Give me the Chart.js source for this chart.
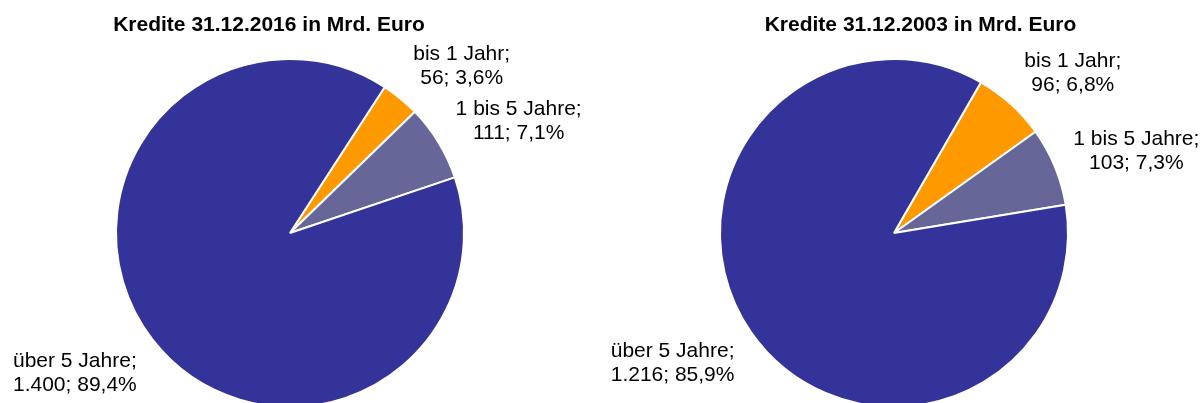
<!DOCTYPE html>
<html>
<head>
<meta charset="utf-8">
<script src="https://cdn.jsdelivr.net/npm/chart.js@4.4.0/dist/chart.umd.min.js"></script>
<style>
  html, body { margin: 0; padding: 0; background: #fff; overflow: hidden; }
  #wrap { position: relative; width: 1203px; height: 403px; overflow: hidden; }
  canvas { position: absolute; top: 0; }
  #chart2016 { left: 0; }
  #chart2003 { left: 600px; }
</style>
</head>
<body>
<div id="wrap">
  <canvas id="chart2016" width="600" height="466"></canvas>
  <canvas id="chart2003" width="603" height="466"></canvas>
</div>
<script>
const categories = ['bis 1 Jahr', '1 bis 5 Jahre', 'über 5 Jahre'];
const values2016 = [56, 111, 1400];
const shares2016 = [3.6, 7.1, 89.4];
const values2003 = [96, 103, 1216];
const shares2003 = [6.8, 7.3, 85.9];
const colors = ['#FF9900', '#666699', '#333399'];

const FONT = '"Liberation Sans", Arial, sans-serif';

function fmtNum(v) {
  return String(v).replace(/\B(?=(\d{3})+(?!\d))/g, '.');
}

// draws the title and the outside slice labels (roughly like Excel's "best fit")
const sliceLabels = {
  id: 'sliceLabels',
  afterDatasetsDraw(chart, args, opts) {
    const ctx = chart.ctx;
    const ds = chart.data.datasets[0];
    const meta = chart.getDatasetMeta(0);
    ctx.save();
    ctx.fillStyle = '#000';
    ctx.textAlign = 'center';
    ctx.textBaseline = 'alphabetic';
    ctx.font = 'bold 21px ' + FONT;
    ctx.fillText(opts.title, opts.titleX, 31);

    ctx.font = '21px ' + FONT;
    const lh = 24;
    meta.data.forEach((arc, i) => {
      const p = arc.getProps(['x', 'y', 'startAngle', 'endAngle', 'outerRadius']);
      const mid = (p.startAngle + p.endAngle) / 2;
      const r = p.outerRadius + 20;
      const ax = p.x + Math.cos(mid) * r;
      const ay = p.y + Math.sin(mid) * r;
      const lines = [
        categories[i] + ';',
        fmtNum(ds.data[i]) + '; ' + ds.shares[i].toFixed(1).replace('.', ',') + '%'
      ];
      const w = Math.max(...lines.map(l => ctx.measureText(l).width));
      const cx = Math.cos(mid) >= 0 ? ax + w / 2 : ax - w / 2;
      // labels below the centre sit a bit lower
      const k = Math.sin(mid) > 0 ? 32 : 24;
      const cy = ay + Math.sin(mid) * k;
      lines.forEach((l, n) => ctx.fillText(l, cx, cy + (n - 0.5) * lh + 7.5));
    });
    ctx.restore();
  }
};

function makePie(id, values, shares, rotation, padRight, title, titleX) {
  return new Chart(document.getElementById(id), {
    type: 'pie',
    data: {
      labels: categories,
      datasets: [{
        data: values,
        shares: shares,
        backgroundColor: colors,
        borderColor: '#fff',
        borderWidth: 2,
        radius: 174
      }]
    },
    options: {
      responsive: false,
      animation: false,
      events: [],
      rotation: rotation,
      layout: { padding: { left: 0, right: padRight, top: 0, bottom: 0 } },
      plugins: {
        legend: { display: false },
        tooltip: { enabled: false },
        sliceLabels: { title: title, titleX: titleX }
      }
    },
    plugins: [sliceLabels]
  });
}

makePie('chart2016', values2016, shares2016, 33, 20, 'Kredite 31.12.2016 in Mrd. Euro', 269);
makePie('chart2003', values2003, shares2003, 30, 15, 'Kredite 31.12.2003 in Mrd. Euro', 320.5);
</script>
</body>
</html>
